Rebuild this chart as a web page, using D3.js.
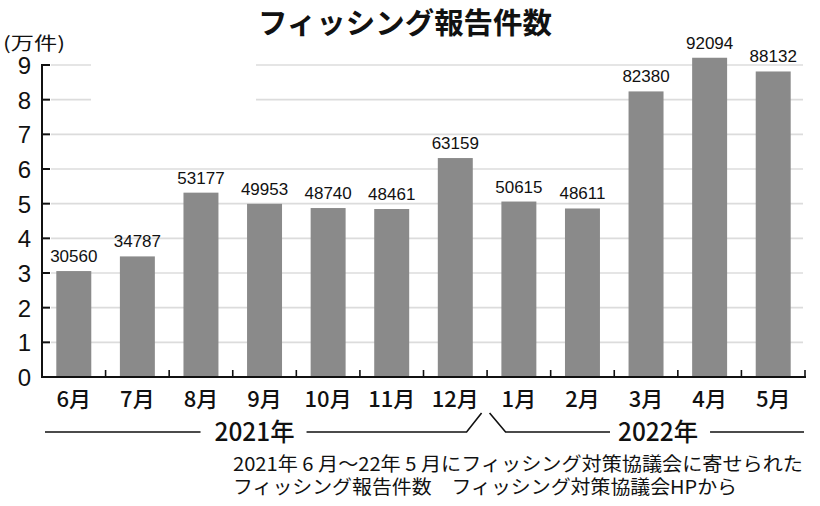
<!DOCTYPE html>
<html><head><meta charset="utf-8">
<script src="https://cdn.jsdelivr.net/npm/d3@7"></script>
<style>
html,body{margin:0;padding:0;background:#fff;}
svg{display:block;}
</style></head>
<body>
<svg id="chart" width="820" height="506"></svg>
<script>
const months = ["6月","7月","8月","9月","10月","11月","12月","1月","2月","3月","4月","5月"];
const values = [30560,34787,53177,49953,48740,48461,63159,50615,48611,82380,92094,88132];
const yTicks = [0,1,2,3,4,5,6,7,8,9];
const years = [{label:"2021年", first:0, last:6}, {label:"2022年", first:7, last:11}];
const title = "フィッシング報告件数";
const unit = "(万件)";
const notes = ["2021年 6 月〜22年 5 月にフィッシング対策協議会に寄せられた", "フィッシング報告件数　フィッシング対策協議会HPから"];

const svg = d3.select("#chart");
const left = 42, right = 805, base = 377, top9 = 65;
const x = d3.scaleBand().domain(months).range([left, right]).paddingInner(0.45).paddingOuter(0.225);
const y = d3.scaleLinear().domain([0, 9]).range([base, top9]);
const gap = (x.step() - x.bandwidth()) / 2;
const sansNum = "'Liberation Sans', Arial, sans-serif";
const cjk = "'Noto Sans CJK JP', sans-serif";
const narrow = "'Liberation Sans Narrow', 'Noto Sans CJK JP', sans-serif";

// gridlines
svg.append("g").selectAll("line").data(yTicks.filter(d => d > 0)).join("line")
  .attr("x1", left + 9).attr("x2", right - 2)
  .attr("y1", d => y(d)).attr("y2", d => y(d))
  .attr("stroke", "#dcdcdc").attr("stroke-width", 1.6);
// gap in the top gridlines as in the reference
svg.append("rect").attr("x", 91).attr("y", y(9) - 6).attr("width", 165).attr("height", y(8) - y(9) + 12).attr("fill", "#fff");

// bars
svg.append("g").selectAll("rect").data(values).join("rect")
  .attr("x", (d, i) => x(months[i]))
  .attr("width", x.bandwidth())
  .attr("y", d => y(d / 10000))
  .attr("height", d => base - y(d / 10000))
  .attr("fill", "#8a8a8a");

// value labels
svg.append("g").selectAll("text").data(values).join("text")
  .attr("x", (d, i) => x(months[i]) + x.bandwidth() / 2)
  .attr("y", d => y(d / 10000) - 9)
  .attr("text-anchor", "middle")
  .attr("font-family", sansNum).attr("font-size", 17).attr("fill", "#111")
  .text(d => d);

// y axis
svg.append("line").attr("x1", left).attr("x2", left).attr("y1", y(9) - 1).attr("y2", base + 1)
  .attr("stroke", "#111").attr("stroke-width", 2);
svg.append("g").selectAll("line").data(yTicks.filter(d => d > 0)).join("line")
  .attr("x1", left).attr("x2", left + 8).attr("y1", d => y(d)).attr("y2", d => y(d))
  .attr("stroke", "#111").attr("stroke-width", 2);
svg.append("g").selectAll("text").data(yTicks).join("text")
  .attr("x", 31).attr("y", d => y(d) + 9)
  .attr("text-anchor", "end")
  .attr("font-family", sansNum).attr("font-size", 24).attr("fill", "#111")
  .text(d => d);

// x axis
svg.append("line").attr("x1", left - 1).attr("x2", right + 1).attr("y1", base).attr("y2", base)
  .attr("stroke", "#111").attr("stroke-width", 2);
const bounds = months.map(m => x(m) - gap).concat([x(months[months.length - 1]) + x.bandwidth() + gap]);
svg.append("g").selectAll("line").data(bounds.slice(1)).join("line")
  .attr("x1", d => d).attr("x2", d => d).attr("y1", base).attr("y2", base - 7)
  .attr("stroke", "#111").attr("stroke-width", 1.6);
svg.append("g").selectAll("text").data(months).join("text")
  .attr("x", d => x(d) + x.bandwidth() / 2)
  .attr("y", 407)
  .attr("text-anchor", "middle")
  .attr("font-family", narrow).attr("font-weight", 500).attr("font-size", 22).attr("fill", "#111")
  .text(d => d);

// year brackets
const yl = 432;
const brk = bounds[7] - 1.5;
const g0 = years[0];
const c0 = x(months[3]) + x.bandwidth() / 2 - 10;
const c1 = x(months[9]) + x.bandwidth() / 2 + 12;
const tw = 80;
const yp = d3.path();
yp.moveTo(x(months[g0.first]) - gap + 3, yl); yp.lineTo(c0 - tw / 2 - 14, yl);
yp.moveTo(c0 + tw / 2 + 12, yl); yp.lineTo(brk - 19, yl); yp.lineTo(brk - 4, yl - 19);
yp.moveTo(brk + 4, yl - 19); yp.lineTo(brk + 20, yl); yp.lineTo(c1 - tw / 2 - 8, yl);
yp.moveTo(c1 + tw / 2 + 12, yl); yp.lineTo(bounds[12] - 1, yl);
svg.append("path").attr("d", yp.toString()).attr("fill", "none").attr("stroke", "#111").attr("stroke-width", 1.6);
svg.append("g").selectAll("text").data([c0, c1]).join("text")
  .attr("x", d => d).attr("y", 441)
  .attr("text-anchor", "middle")
  .attr("font-family", narrow).attr("font-weight", 500).attr("font-size", 25).attr("fill", "#111")
  .attr("textLength", tw).attr("lengthAdjust", "spacingAndGlyphs")
  .text((d, i) => years[i].label);

// title
svg.append("text").attr("x", 405).attr("y", 34).attr("text-anchor", "middle")
  .attr("font-family", cjk).attr("font-weight", 700).attr("font-size", 29).attr("fill", "#111")
  .attr("textLength", 294).attr("lengthAdjust", "spacingAndGlyphs")
  .text(title);

// unit
svg.append("text").attr("x", 3).attr("y", 50)
  .attr("font-family", cjk).attr("font-size", 18).attr("fill", "#111")
  .attr("textLength", 62).attr("lengthAdjust", "spacingAndGlyphs")
  .text(unit);

// notes
const noteLen = [570, 504];
svg.append("g").selectAll("text").data(notes).join("text")
  .attr("x", 233).attr("y", (d, i) => 471 + i * 23)
  .attr("font-family", cjk).attr("font-size", 19).attr("fill", "#111")
  .attr("textLength", (d, i) => noteLen[i]).attr("lengthAdjust", "spacingAndGlyphs")
  .text(d => d);
</script>
</body></html>
